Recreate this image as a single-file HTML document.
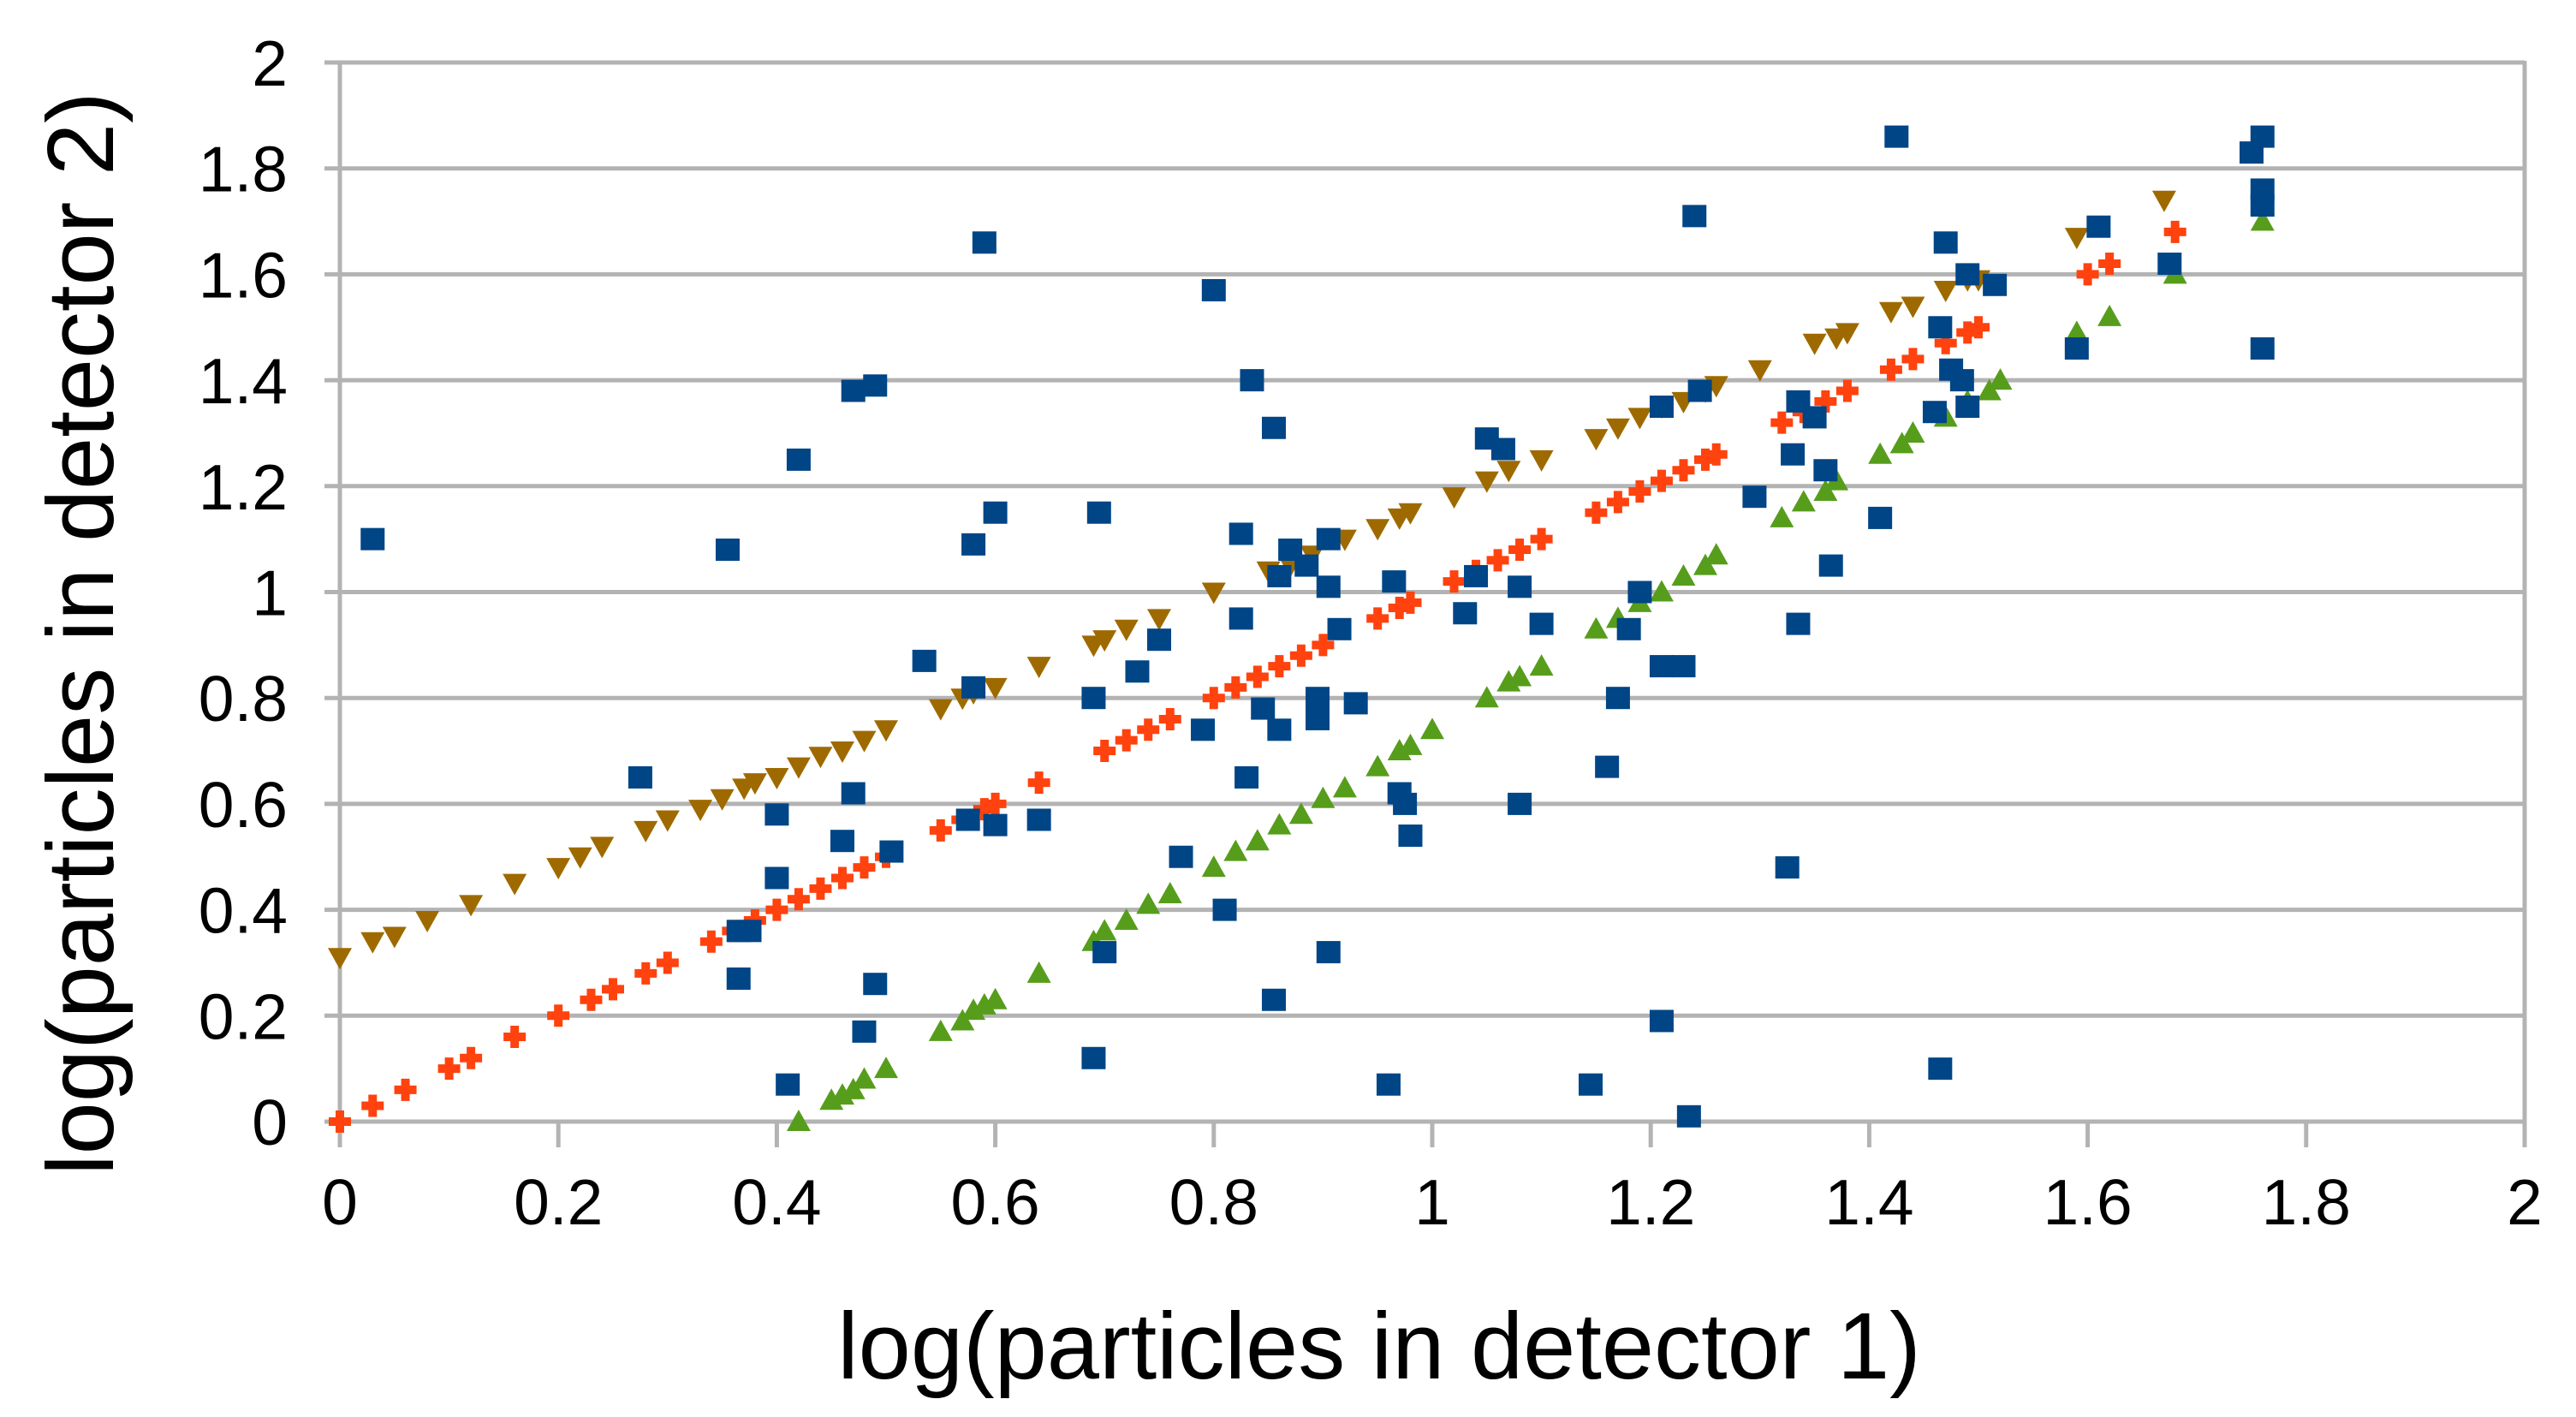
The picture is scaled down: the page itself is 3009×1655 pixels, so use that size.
<!DOCTYPE html>
<html><head><meta charset="utf-8"><style>
html,body{margin:0;padding:0;background:#fff;}
svg{display:block;font-family:"Liberation Sans",sans-serif;}
</style></head><body>
<svg id="chart" width="3009" height="1655" viewBox="0 0 3009 1655" xmlns="http://www.w3.org/2000/svg">
<g id="grid"></g>
<g id="marks"></g>
<g id="ticks"></g>
<text x="1611" y="1610" font-size="110" text-anchor="middle" fill="#000">log(particles in detector 1)</text>
<text transform="translate(132,740) rotate(-90)" font-size="110" text-anchor="middle" fill="#000">log(particles in detector 2)</text>
</svg>
<script>
const xTicks=[0,0.2,0.4,0.6,0.8,1,1.2,1.4,1.6,1.8,2];
const yTicks=[0,0.2,0.4,0.6,0.8,1,1.2,1.4,1.6,1.8,2];
const xTickLabels=["0","0.2","0.4","0.6","0.8","1","1.2","1.4","1.6","1.8","2"];
const yTickLabels=["0","0.2","0.4","0.6","0.8","1","1.2","1.4","1.6","1.8","2"];
const brownX=[0,0.03,0.05,0.08,0.12,0.16,0.2,0.22,0.24,0.28,0.3,0.33,0.35,0.37,0.38,0.4,0.42,0.44,0.46,0.48,0.5,0.55,0.57,0.58,0.6,0.64,0.69,0.7,0.72,0.75,0.8,0.85,0.87,0.89,0.92,0.95,0.97,0.98,1.02,1.05,1.07,1.1,1.15,1.17,1.19,1.21,1.23,1.25,1.26,1.3,1.35,1.37,1.38,1.42,1.44,1.47,1.49,1.5,1.59,1.67];
const brownY=[0.31,0.34,0.35,0.38,0.41,0.45,0.48,0.5,0.52,0.55,0.57,0.59,0.61,0.63,0.64,0.65,0.67,0.69,0.70,0.72,0.74,0.78,0.80,0.81,0.82,0.86,0.90,0.91,0.93,0.95,1.0,1.04,1.05,1.07,1.10,1.12,1.14,1.15,1.18,1.21,1.23,1.25,1.29,1.31,1.33,1.35,1.36,1.38,1.39,1.42,1.47,1.48,1.49,1.53,1.54,1.57,1.59,1.59,1.67,1.74];
const redX=[0,0.03,0.06,0.1,0.12,0.16,0.2,0.23,0.25,0.28,0.3,0.34,0.36,0.38,0.4,0.42,0.44,0.46,0.48,0.5,0.55,0.57,0.59,0.6,0.64,0.7,0.72,0.74,0.76,0.8,0.82,0.84,0.86,0.88,0.9,0.95,0.97,0.98,1.02,1.04,1.06,1.08,1.1,1.15,1.17,1.19,1.21,1.23,1.25,1.26,1.32,1.34,1.36,1.38,1.42,1.44,1.47,1.49,1.5,1.6,1.62,1.68,1.76];
const redY=[0,0.03,0.06,0.1,0.12,0.16,0.2,0.23,0.25,0.28,0.3,0.34,0.36,0.38,0.4,0.42,0.44,0.46,0.48,0.5,0.55,0.57,0.59,0.6,0.64,0.7,0.72,0.74,0.76,0.8,0.82,0.84,0.86,0.88,0.9,0.95,0.97,0.98,1.02,1.04,1.06,1.08,1.1,1.15,1.17,1.19,1.21,1.23,1.25,1.26,1.32,1.34,1.36,1.38,1.42,1.44,1.47,1.49,1.5,1.6,1.62,1.68,1.76];
const greenX=[0.42,0.45,0.46,0.47,0.48,0.5,0.55,0.57,0.58,0.59,0.6,0.64,0.69,0.7,0.72,0.74,0.76,0.8,0.82,0.84,0.86,0.88,0.9,0.92,0.95,0.97,0.98,1.0,1.05,1.07,1.08,1.1,1.15,1.17,1.19,1.21,1.23,1.25,1.26,1.32,1.34,1.36,1.37,1.41,1.43,1.44,1.47,1.49,1.51,1.52,1.59,1.62,1.68,1.76];
const greenY=[0,0.04,0.05,0.06,0.08,0.1,0.17,0.19,0.21,0.22,0.23,0.28,0.34,0.36,0.38,0.41,0.43,0.48,0.51,0.53,0.56,0.58,0.61,0.63,0.67,0.70,0.71,0.74,0.80,0.83,0.84,0.86,0.93,0.95,0.98,1.0,1.03,1.05,1.07,1.14,1.17,1.19,1.21,1.26,1.28,1.30,1.33,1.36,1.38,1.40,1.49,1.52,1.60,1.70];
const blueX=[0.03,0.275,0.355,0.42,0.47,0.49,0.365,0.375,0.365,0.40,0.40,0.41,0.47,0.46,0.48,0.49,0.505,0.535,0.575,0.58,0.58,0.59,0.60,0.60,0.64,0.695,0.69,0.69,0.70,0.73,0.75,0.77,0.79,0.80,0.81,0.825,0.825,0.83,0.835,0.845,0.855,0.855,0.86,0.86,0.87,0.885,0.895,0.895,0.905,0.905,0.905,0.915,0.93,0.965,0.97,0.975,0.98,0.96,1.03,1.04,1.05,1.065,1.08,1.08,1.10,1.145,1.16,1.17,1.18,1.19,1.21,1.21,1.21,1.23,1.235,1.24,1.245,1.295,1.325,1.33,1.335,1.335,1.35,1.36,1.365,1.41,1.425,1.46,1.465,1.465,1.47,1.475,1.485,1.49,1.49,1.515,1.59,1.61,1.675,1.75,1.76,1.76,1.76,1.76];
const blueY=[1.10,0.65,1.08,1.25,1.38,1.39,0.36,0.36,0.27,0.58,0.46,0.07,0.62,0.53,0.17,0.26,0.51,0.87,0.57,0.82,1.09,1.66,1.15,0.56,0.57,1.15,0.80,0.12,0.32,0.85,0.91,0.50,0.74,1.57,0.40,1.11,0.95,0.65,1.40,0.78,0.23,1.31,1.03,0.74,1.08,1.05,0.80,0.76,0.32,1.10,1.01,0.93,0.79,1.02,0.62,0.60,0.54,0.07,0.96,1.03,1.29,1.27,1.01,0.60,0.94,0.07,0.67,0.80,0.93,1.00,1.35,0.19,0.86,0.86,0.01,1.71,1.38,1.18,0.48,1.26,1.36,0.94,1.33,1.23,1.05,1.14,1.86,1.34,1.50,0.10,1.66,1.42,1.40,1.35,1.60,1.58,1.46,1.69,1.62,1.83,1.86,1.76,1.73,1.46];

const X0=397,X1=2949,Y0=1310,Y1=73;
function sx(v){return X0+(X1-X0)*v/2;}
function sy(v){return Y0-(Y0-Y1)*v/2;}
const NS="http://www.w3.org/2000/svg";
function mk(tag,attrs,parent){const e=document.createElementNS(NS,tag);for(const k in attrs)e.setAttribute(k,attrs[k]);parent.appendChild(e);return e;}
const grid=document.getElementById('grid'),marks=document.getElementById('marks'),ticks=document.getElementById('ticks');
yTicks.forEach((t,i)=>{
  const l=mk('line',{x1:X0-18,x2:X1,y1:sy(t),y2:sy(t),stroke:'#b3b3b3','stroke-width':5},grid);
  
  
  const tx=mk('text',{x:336,y:sy(t)+27,'font-size':75,'text-anchor':'end',fill:'#000'},ticks);
  tx.textContent=yTickLabels[i];
  
  
});
xTicks.forEach((t,i)=>{
  const l=mk('line',{x1:sx(t),x2:sx(t),y1:Y0,y2:Y0+30,stroke:'#b3b3b3','stroke-width':5},grid);
  
  
  const tx=mk('text',{x:sx(t),y:1430,'font-size':75,'text-anchor':'middle',fill:'#000'},ticks);
  tx.textContent=xTickLabels[i];
  
  
});
const ya=mk('line',{x1:X0,x2:X0,y1:Y1,y2:Y0+30,stroke:'#b3b3b3','stroke-width':5},grid);


const ra=mk('line',{x1:X1,x2:X1,y1:Y1-2,y2:Y0+30,stroke:'#b3b3b3','stroke-width':5},grid);



brownX.forEach((x,i)=>{const cx=sx(x),cy=sy(brownY[i]);
  const p=mk('polygon',{points:`${cx-14},${cy-11} ${cx+14},${cy-11} ${cx},${cy+14}`,fill:'#9e6a00'},marks);
  
  });
redX.forEach((x,i)=>{const cx=sx(x),cy=sy(redY[i]);
  const p=mk('path',{d:`M${cx-5},${cy-13}h10v8h8v10h-8v8h-10v-8h-8v-10h8z`,fill:'#ff420e'},marks);
  
  });
greenX.forEach((x,i)=>{const cx=sx(x),cy=sy(greenY[i]);
  const p=mk('polygon',{points:`${cx-14},${cy+11} ${cx+14},${cy+11} ${cx},${cy-14}`,fill:'#579d1c'},marks);
  
  });
blueX.forEach((x,i)=>{const cx=sx(x),cy=sy(blueY[i]);
  const p=mk('rect',{x:cx-14,y:cy-13,width:28,height:26,fill:'#004586'},marks);
  
  });
</script>
</body></html>
